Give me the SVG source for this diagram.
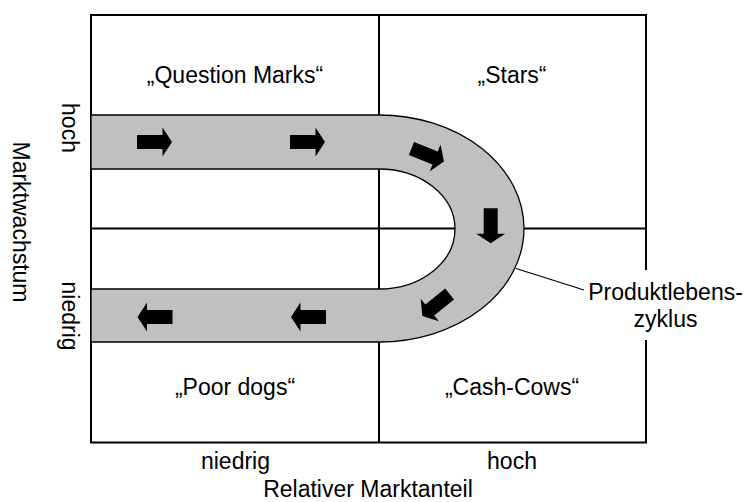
<svg xmlns="http://www.w3.org/2000/svg" width="747" height="502" viewBox="0 0 747 502">
<defs>
<style>
text{font-family:"Liberation Sans",Arial,sans-serif;font-size:23px;fill:#000;text-anchor:middle}
.grid{fill:none;stroke:#000;stroke-width:2}
.band{fill:#c0c0c0;stroke:#000;stroke-width:1.3}
.arr{fill:#000}
.lead{stroke:#000;stroke-width:1.3;fill:none}
</style>
<polygon id="arrow" class="arr" points="-17.5,-7 8,-7 8,-14.5 17.5,0 8,14.5 8,7 -17.5,7"/>
</defs>
<g id="grid">
<rect class="grid" x="91" y="15" width="555" height="427.5"/>
<line class="grid" x1="379" y1="15" x2="379" y2="442.5"/>
<line class="grid" x1="91" y1="228.5" x2="646" y2="228.5"/>
</g>
<g id="lifecycle">
<path class="band" d="M91,115 H379 A145,113.5 0 0 1 379,342 H91 V289 H379 A76,60 0 0 0 379,169 H91 Z"/>
<use href="#arrow" transform="translate(154.5,142)"/>
<use href="#arrow" transform="translate(307.5,142)"/>
<use href="#arrow" transform="translate(427.7,155) rotate(22)"/>
<use href="#arrow" transform="translate(490.7,225.8) rotate(90)"/>
<use href="#arrow" transform="translate(436,305) rotate(141)"/>
<use href="#arrow" transform="translate(308.5,317) rotate(180)"/>
<use href="#arrow" transform="translate(155,317) rotate(180)"/>
</g>
<g id="connectors">
<line class="lead" x1="516" y1="268.5" x2="584" y2="290"/>
</g>
<g id="label-plc">
<rect x="586" y="270" width="161" height="70" fill="#fff"/>
<text x="665.5" y="300">Produktlebens-</text>
<text x="665.5" y="327">zyklus</text>
</g>
<g id="q-marks"><text x="235" y="83">„Question Marks“</text></g>
<g id="stars"><text x="512" y="83">„Stars“</text></g>
<g id="poor-dogs"><text x="235" y="395">„Poor dogs“</text></g>
<g id="cash-cows"><text x="512" y="395">„Cash-Cows“</text></g>
<g id="x-axis">
<text x="235.5" y="469">niedrig</text>
<text x="512" y="469">hoch</text>
<text x="368" y="497">Relativer Marktanteil</text>
</g>
<g id="y-axis">
<text transform="translate(62,128) rotate(90)">hoch</text>
<text transform="translate(13,222) rotate(90)">Marktwachstum</text>
<text transform="translate(62,316) rotate(90)">niedrig</text>
</g>
</svg>
